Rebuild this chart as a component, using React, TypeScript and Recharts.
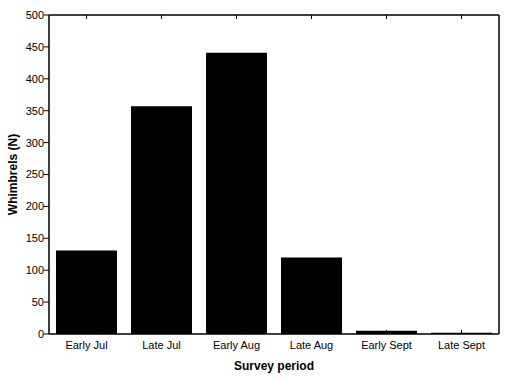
import React from "react";
import { BarChart, Bar, XAxis, YAxis } from "recharts";

const categories = ["Early Jul", "Late Jul", "Early Aug", "Late Aug", "Early Sept", "Late Sept"];
const whimbrels = [131, 357, 441, 120, 5, 2];
const yTicks = [0, 50, 100, 150, 200, 250, 300, 350, 400, 450, 500];

const data = categories.map((c, i) => ({ period: c, n: whimbrels[i] }));

const FONT = "'Liberation Sans', Arial, sans-serif";
const PLOT_TOP = 15;
const PLOT_BOTTOM = 334;
const PLOT_LEFT = 49;
const PLOT_RIGHT = 499;

const BottomTick = (props: any) => {
  const { x, payload } = props;
  return (
    <g>
      <line x1={x} x2={x} y1={PLOT_BOTTOM} y2={PLOT_BOTTOM - 4} stroke="#000" strokeWidth={1} />
      <text x={x} y={349} textAnchor="middle" fontSize={11} fontFamily={FONT} fill="#000">
        {payload.value}
      </text>
    </g>
  );
};

const TopTick = (props: any) => {
  const { x } = props;
  return <line x1={x} x2={x} y1={PLOT_TOP} y2={PLOT_TOP + 4} stroke="#000" strokeWidth={1} />;
};

const RightTick = (props: any) => {
  const { y } = props;
  return <line x1={PLOT_RIGHT} x2={PLOT_RIGHT - 4} y1={y} y2={y} stroke="#000" strokeWidth={1} />;
};

export default function App() {
  return (
    <div style={{ position: "absolute", left: 0, top: 0, width: 505, height: 379, background: "#fff" }}>
      <BarChart
        width={505}
        height={379}
        data={data}
        margin={{ top: PLOT_TOP - 1, right: 505 - PLOT_RIGHT - 1, left: 0, bottom: 0 }}
      >
        <XAxis
          dataKey="period"
          xAxisId="bottom"
          height={379 - PLOT_BOTTOM}
          tickLine={false}
          axisLine={{ stroke: "#000", strokeWidth: 1.5 }}
          tick={<BottomTick />}
          interval={0}
          label={{
            value: "Survey period",
            position: "insideBottom",
            offset: 9,
            style: { fontFamily: FONT, fontSize: 12, fontWeight: "bold", fill: "#000" },
          }}
        />
        <XAxis
          dataKey="period"
          xAxisId="top"
          orientation="top"
          height={1}
          tickLine={false}
          axisLine={{ stroke: "#000", strokeWidth: 1.5 }}
          tick={<TopTick />}
          interval={0}
        />
        <YAxis
          yAxisId="left"
          width={PLOT_LEFT}
          domain={[0, 500]}
          ticks={yTicks}
          interval={0}
          tickSize={5}
          tickMargin={0}
          tickLine={{ stroke: "#000" }}
          axisLine={{ stroke: "#000", strokeWidth: 1.5 }}
          tick={{ fontFamily: FONT, fontSize: 11, fill: "#000" }}
          label={{
            value: "Whimbrels (N)",
            angle: -90,
            position: "insideLeft",
            offset: 13,
            style: { fontFamily: FONT, fontSize: 12, fontWeight: "bold", fill: "#000", textAnchor: "middle" },
          }}
        />
        <YAxis
          yAxisId="right"
          orientation="right"
          width={1}
          domain={[0, 500]}
          ticks={yTicks}
          interval={0}
          tickLine={false}
          axisLine={{ stroke: "#000", strokeWidth: 1.5 }}
          tick={<RightTick />}
        />
        <Bar
          dataKey="n"
          xAxisId="bottom"
          yAxisId="left"
          fill="#000"
          barSize={61}
          isAnimationActive={false}
        />
      </BarChart>
    </div>
  );
}
